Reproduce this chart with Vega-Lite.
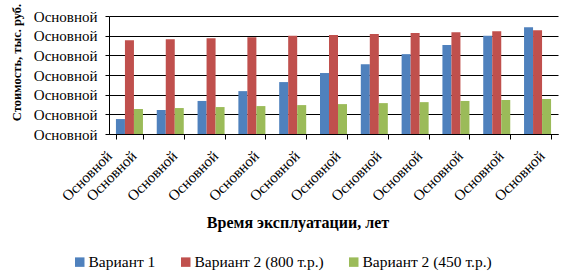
{
  "$schema": "https://vega.github.io/schema/vega-lite/v6.json",
  "width": 449,
  "height": 118,
  "autosize": {"type": "none"},
  "padding": {"left": 109, "top": 16, "right": 16, "bottom": 144},
  "background": "white",
  "data": {
    "values": [
      {"year": 1, "variant": "Вариант 1", "value": 0.76},
      {"year": 2, "variant": "Вариант 1", "value": 1.22},
      {"year": 3, "variant": "Вариант 1", "value": 1.68},
      {"year": 4, "variant": "Вариант 1", "value": 2.18},
      {"year": 5, "variant": "Вариант 1", "value": 2.64},
      {"year": 6, "variant": "Вариант 1", "value": 3.10},
      {"year": 7, "variant": "Вариант 1", "value": 3.55},
      {"year": 8, "variant": "Вариант 1", "value": 4.06},
      {"year": 9, "variant": "Вариант 1", "value": 4.52},
      {"year": 10, "variant": "Вариант 1", "value": 4.99},
      {"year": 11, "variant": "Вариант 1", "value": 5.43},
      {"year": 1, "variant": "Вариант 2 (800 т.р.)", "value": 4.77},
      {"year": 2, "variant": "Вариант 2 (800 т.р.)", "value": 4.82},
      {"year": 3, "variant": "Вариант 2 (800 т.р.)", "value": 4.87},
      {"year": 4, "variant": "Вариант 2 (800 т.р.)", "value": 4.92},
      {"year": 5, "variant": "Вариант 2 (800 т.р.)", "value": 4.99},
      {"year": 6, "variant": "Вариант 2 (800 т.р.)", "value": 5.03},
      {"year": 7, "variant": "Вариант 2 (800 т.р.)", "value": 5.08},
      {"year": 8, "variant": "Вариант 2 (800 т.р.)", "value": 5.13},
      {"year": 9, "variant": "Вариант 2 (800 т.р.)", "value": 5.18},
      {"year": 10, "variant": "Вариант 2 (800 т.р.)", "value": 5.23},
      {"year": 11, "variant": "Вариант 2 (800 т.р.)", "value": 5.28},
      {"year": 1, "variant": "Вариант 2 (450 т.р.)", "value": 1.27},
      {"year": 2, "variant": "Вариант 2 (450 т.р.)", "value": 1.32},
      {"year": 3, "variant": "Вариант 2 (450 т.р.)", "value": 1.37},
      {"year": 4, "variant": "Вариант 2 (450 т.р.)", "value": 1.42},
      {"year": 5, "variant": "Вариант 2 (450 т.р.)", "value": 1.47},
      {"year": 6, "variant": "Вариант 2 (450 т.р.)", "value": 1.52},
      {"year": 7, "variant": "Вариант 2 (450 т.р.)", "value": 1.57},
      {"year": 8, "variant": "Вариант 2 (450 т.р.)", "value": 1.62},
      {"year": 9, "variant": "Вариант 2 (450 т.р.)", "value": 1.68},
      {"year": 10, "variant": "Вариант 2 (450 т.р.)", "value": 1.73},
      {"year": 11, "variant": "Вариант 2 (450 т.р.)", "value": 1.78}
    ]
  },
  "mark": {"type": "bar"},
  "encoding": {
    "x": {
      "field": "year",
      "type": "ordinal",
      "scale": {"paddingInner": 0.338, "paddingOuter": 0.17},
      "axis": {
        "title": "Время эксплуатации, лет",
        "labelExpr": "'Основной'",
        "labelAngle": -45,
        "labelAlign": "right",
        "labelBaseline": "middle",
        "labelOffset": 4,
        "labelPadding": 14,
        "tickBand": "extent",
        "tickSize": 5,
        "tickColor": "black",
        "domainColor": "black",
        "labelFontSize": 15,
        "labelColor": "black",
        "titleFontSize": 16,
        "titleFontWeight": "bold",
        "titleColor": "black",
        "titleX": 188.5,
        "titleY": 93,
        "titleAlign": "center",
        "titleAnchor": null,
        "titleBaseline": "alphabetic"
      }
    },
    "xOffset": {
      "field": "variant",
      "type": "nominal",
      "sort": ["Вариант 1", "Вариант 2 (800 т.р.)", "Вариант 2 (450 т.р.)"],
      "scale": {"paddingInner": 0, "paddingOuter": 0}
    },
    "y": {
      "field": "value",
      "type": "quantitative",
      "scale": {"domain": [0, 6], "nice": false},
      "axis": {
        "title": "Стоимость, тыс. руб.",
        "values": [0, 1, 2, 3, 4, 5, 6],
        "labelExpr": "'Основной'",
        "labelFontSize": 15,
        "labelColor": "black",
        "labelPadding": 8,
        "tickSize": 4,
        "tickColor": "black",
        "domainColor": "black",
        "gridColor": "black",
        "gridOpacity": 1,
        "titleFontSize": 12.5,
        "titleFontWeight": "bold",
        "titleColor": "black",
        "titleX": -93,
        "titleY": 46,
        "titleAngle": -90,
        "titleAlign": "center",
        "titleAnchor": null,
        "titleBaseline": "middle"
      }
    },
    "color": {
      "field": "variant",
      "type": "nominal",
      "sort": ["Вариант 1", "Вариант 2 (800 т.р.)", "Вариант 2 (450 т.р.)"],
      "scale": {
        "domain": ["Вариант 1", "Вариант 2 (800 т.р.)", "Вариант 2 (450 т.р.)"],
        "range": ["#4F81BD", "#C0504D", "#9BBB59"]
      },
      "legend": {
        "orient": "none",
        "legendX": -37,
        "legendY": 238,
        "direction": "horizontal",
        "title": null,
        "symbolType": "square",
        "symbolSize": 90,
        "symbolStrokeWidth": 0,
        "symbolOpacity": 1,
        "labelFontSize": 15.5,
        "labelColor": "black",
        "labelOffset": 1,
        "columnPadding": 22
      }
    }
  },
  "config": {
    "font": "Liberation Serif",
    "view": {"stroke": null},
    "axis": {"domainWidth": 1, "gridWidth": 1, "tickWidth": 1, "labelFont": "Liberation Serif", "titleFont": "Liberation Serif"},
    "legend": {"labelFont": "Liberation Serif"}
  }
}
